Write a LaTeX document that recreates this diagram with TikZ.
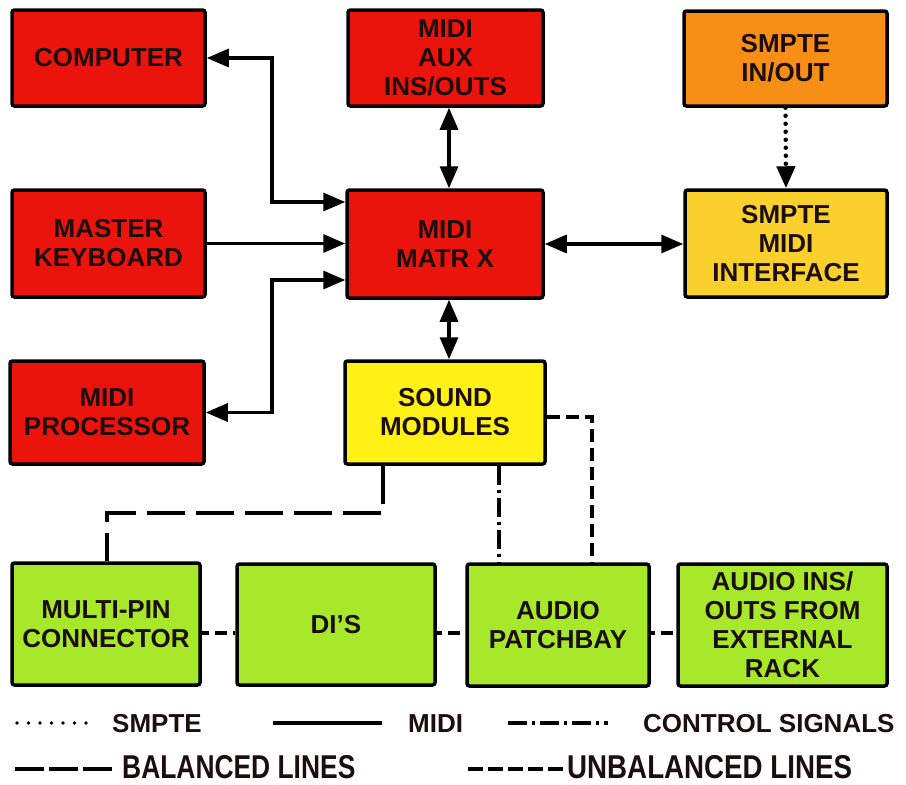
\documentclass[tikz,border=0pt]{standalone}
\usepackage{fontspec}
\setmainfont{Liberation Sans}
\usetikzlibrary{arrows.meta}
\definecolor{boxred}{RGB}{234,20,12}
\definecolor{boxorange}{RGB}{247,142,22}
\definecolor{boxgold}{RGB}{250,208,45}
\definecolor{boxyellow}{RGB}{255,240,22}
\definecolor{boxgreen}{RGB}{168,232,42}
\definecolor{txt}{RGB}{28,14,12}
\begin{document}
\begin{tikzpicture}[x=1pt,y=-1pt]
\tikzset{
 box/.style={draw=black, line width=3.5pt, rounded corners=2.5pt, align=center, inner sep=0pt, font=\bfseries\fontsize{26}{29}\selectfont, text=txt},
 conn/.style={line width=3.2pt, draw=black},
 biarr/.style={conn, {Triangle[length=22pt,width=18pt]}-{Triangle[length=22pt,width=18pt]}},
 onearr/.style={conn, -{Triangle[length=22pt,width=18pt]}},
 smpteline/.style={conn, line width=4.5pt, line cap=round, dash pattern=on 0pt off 8pt},
 balanced/.style={conn, dash pattern=on 38pt off 11pt},
 unbalanced/.style={conn, dash pattern=on 13pt off 6pt},
 ctrl/.style={conn, dash pattern=on 19pt off 5pt on 3pt off 5pt},
 legtext/.style={anchor=base west, inner sep=0pt, text=txt, font=\bfseries\fontsize{26}{29}\selectfont},
 legtexttall/.style={anchor=base west, inner sep=0pt, text=txt, font=\bfseries\fontsize{33}{36}\selectfont},
}
\fill[white] (0,0) rectangle (906,785);
\useasboundingbox (0,0) rectangle (906,785);

% boxes
\node[box, fill=boxred, minimum width=193pt, minimum height=96pt] (computer) at (108.5,58) {COMPUTER};
\node[box, fill=boxred, minimum width=195pt, minimum height=96pt] (aux) at (445.5,58) {MIDI\\AUX\\INS/OUTS};
\node[box, fill=boxorange, minimum width=203pt, minimum height=95pt] (smpteio) at (785.5,58.5) {SMPTE\\IN/OUT};
\node[box, fill=boxred, minimum width=193pt, minimum height=107pt] (keyboard) at (108.5,243.5) {MASTER\\KEYBOARD};
\node[box, fill=boxred, minimum width=196pt, minimum height=108pt] (matrix) at (445,244) {MIDI\\MATR X};
\node[box, fill=boxgold, minimum width=202pt, minimum height=107pt] (smptemidi) at (786,243.5) {SMPTE\\MIDI\\INTERFACE};
\node[box, fill=boxred, minimum width=194pt, minimum height=103pt] (processor) at (107,412.5) {MIDI\\PROCESSOR};
\node[box, fill=boxyellow, minimum width=200pt, minimum height=103pt] (sound) at (445,412.5) {SOUND\\MODULES};
\node[box, fill=boxgreen, minimum width=188pt, minimum height=122pt] (multipin) at (106,624) {MULTI-PIN\\CONNECTOR};
\node[box, fill=boxgreen, minimum width=198pt, minimum height=121pt] (dis) at (336,624.5) {DI'S};
\node[box, fill=boxgreen, minimum width=182pt, minimum height=122pt] (patch) at (558,625) {AUDIO\\PATCHBAY};
\node[box, fill=boxgreen, minimum width=209pt, minimum height=122pt] (audioins) at (782.5,625) {AUDIO INS/\\OUTS FROM\\EXTERNAL\\RACK};

% helper coordinates
\coordinate (xa) at (272,0);
\coordinate (xm) at (449,0);
\coordinate (xb) at (383,0);
\coordinate (xc) at (107,0);
\coordinate (xd) at (499,0);
\coordinate (xe) at (592,0);
\coordinate (y202) at (0,202);
\coordinate (y280) at (0,280);
\coordinate (y513) at (0,513);
\coordinate (y417) at (0,417);
\coordinate (y633) at (0,633);

% MIDI connectors
\draw[biarr] (computer.east) -| (xa |- y202) -- (matrix.west |- y202);
\draw[onearr] (keyboard.east) -- (matrix.west |- keyboard.east);
\draw[biarr] (processor.east) -| (xa |- y280) -- (matrix.west |- y280);
\draw[biarr] (aux.south -| xm) -- (matrix.north -| xm);
\draw[biarr] (matrix.south -| xm) -- (sound.north -| xm);
\draw[biarr] (matrix.east) -- (smptemidi.west |- matrix.east);

% SMPTE
\draw[smpteline, -{Triangle[length=22pt,width=18pt]}] (smpteio.south) -- (smptemidi.north);

% audio
\draw[balanced] (sound.south -| xb) -- (xb |- y513) -- (xc |- y513) -- (multipin.north -| xc);
\draw[ctrl] (sound.south -| xd) -- (patch.north -| xd);
\draw[unbalanced] (sound.east |- y417) -| (patch.north -| xe);
\draw[unbalanced, dash pattern=on 12pt off 6pt, dash phase=5pt] (multipin.east |- y633) -- (dis.west |- y633);
\draw[unbalanced, dash pattern=on 12pt off 6pt, dash phase=7pt] (dis.east |- y633) -- (patch.west |- y633);
\draw[unbalanced, dash pattern=on 12pt off 6pt, dash phase=8pt] (patch.east |- y633) -- (audioins.west |- y633);

% legend
\coordinate (l1a) at (17,723);  \coordinate (l1b) at (88,723);
\coordinate (l2a) at (273,723); \coordinate (l2b) at (382,723);
\coordinate (l3a) at (508,723); \coordinate (l3b) at (608,723);
\coordinate (l4a) at (15,769);  \coordinate (l4b) at (112,769);
\coordinate (l5a) at (468,769); \coordinate (l5b) at (563,769);
\draw[smpteline, line width=3.6pt, dash pattern=on 0pt off 11.5pt] (l1a) -- (l1b);
\draw[conn] (l2a) -- (l2b);
\draw[ctrl] (l3a) -- (l3b);
\draw[balanced, dash pattern=on 29pt off 5pt] (l4a) -- (l4b);
\draw[unbalanced, dash pattern=on 15pt off 5pt] (l5a) -- (l5b);
\node[legtext] (lsmpte) at (112,732) {SMPTE};
\node[legtext] (lmidi) at (408,732) {MIDI};
\node[legtext] (lctrl) at (643,732) {CONTROL SIGNALS};
\node[legtexttall] (lbal) at (122,778) {\scalebox{0.80}[1]{BALANCED LINES}};
\node[legtexttall] (lunbal) at (567,778) {\scalebox{0.84}[1]{UNBALANCED LINES}};
\end{tikzpicture}
\end{document}
